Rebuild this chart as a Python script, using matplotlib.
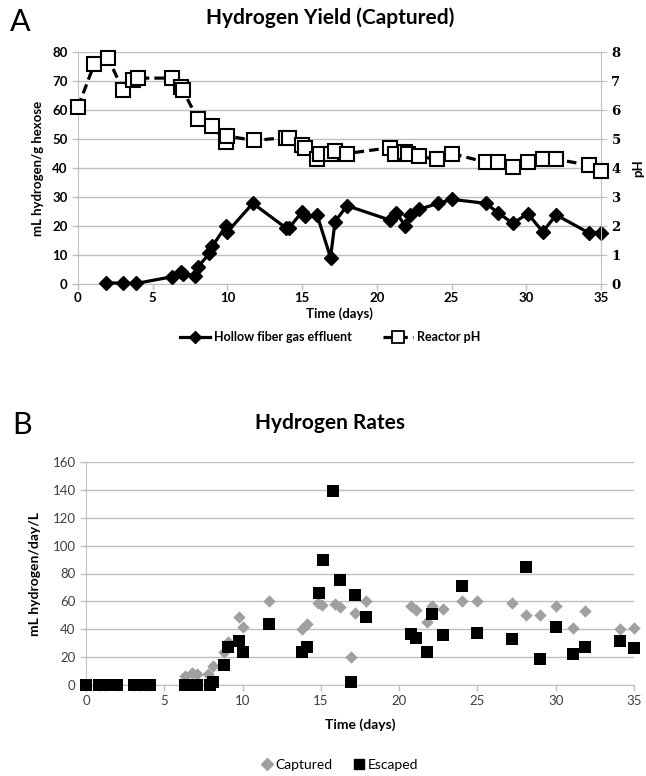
import matplotlib.pyplot as plt
from matplotlib.lines import Line2D

plt.rcParams['font.family'] = ['Lato', 'DejaVu Sans']

# Panel A - hollow fiber gas effluent yield (mL H2 / g hexose)
hf_days = [1.9, 3.0, 3.9, 6.3, 6.9, 7.0, 7.8, 8.0, 8.8, 9.0, 9.9, 10.0, 11.7,
           13.9, 14.1, 15.0, 15.2, 16.0, 16.9, 17.2, 18.0, 20.9, 21.3, 21.9,
           22.2, 22.8, 24.1, 25.0, 27.3, 28.1, 29.1, 30.1, 31.1, 32.0, 34.2, 35.0]
hf_yield = [0.5, 0.2, 0.2, 2.5, 4.0, 3.6, 2.9, 5.7, 10.6, 13.1, 20.0, 18.0, 27.8,
            19.4, 19.2, 24.9, 23.4, 23.8, 9.1, 21.5, 27.0, 22.0, 24.6, 20.0,
            23.8, 25.7, 27.8, 29.2, 27.8, 24.6, 20.9, 24.3, 18.0, 23.8, 17.6, 17.7]

# Panel A - reactor pH
ph_days = [0.0, 1.1, 2.0, 3.0, 3.7, 4.0, 6.3, 6.9, 7.0, 8.0, 9.0, 9.9, 10.0,
           11.8, 13.9, 14.1, 15.0, 15.2, 16.0, 16.2, 16.9, 17.2, 18.0, 20.9,
           21.2, 21.9, 22.1, 22.8, 24.0, 25.0, 27.3, 28.1, 29.1, 30.1, 31.1,
           32.0, 34.2, 35.0]
ph_vals = [6.1, 7.6, 7.8, 6.7, 7.05, 7.1, 7.1, 6.8, 6.7, 5.7, 5.45, 4.9, 5.1,
           4.95, 5.05, 5.05, 4.8, 4.7, 4.3, 4.5, 4.5, 4.6, 4.5, 4.7,
           4.5, 4.55, 4.5, 4.4, 4.3, 4.5, 4.2, 4.2, 4.05, 4.2, 4.3,
           4.3, 4.1, 3.9]

# Panel B - hydrogen rates (mL H2 / day / L)
cap_days = [0.0, 0.85, 1.2, 2.0, 3.06, 3.45, 3.77, 4.1, 6.3, 6.8, 7.1, 7.8, 8.1,
            8.8, 9.1, 9.8, 10.0, 11.7, 13.8, 14.1, 14.8, 15.1, 15.9, 16.2, 16.9,
            17.2, 17.9, 20.75, 21.1, 21.75, 22.1, 22.8, 24.0, 25.0, 27.2, 28.1,
            29.0, 30.0, 31.1, 31.9, 34.1, 35.0]
cap_rate = [0, 0, 0, 0, 0, 0, 0, 0, 6.2, 8.5, 8.0, 7.6, 13.4,
            24, 31, 48.5, 41.6, 60, 40.4, 43.9, 58.9, 57.7, 58, 56, 20,
            52, 60, 56.6, 53.8, 45, 56.6, 54.7, 60, 60, 58.9, 50,
            50, 56.6, 40.9, 53, 40, 41]

esc_days = [0.0, 0.85, 1.2, 2.0, 3.06, 3.45, 3.77, 4.1, 6.3, 6.6, 7.1, 7.9, 8.1,
            8.8, 9.1, 9.8, 10.0, 11.7, 13.8, 14.1, 14.9, 15.15, 15.8, 16.2, 16.95,
            17.2, 17.9, 20.75, 21.1, 21.75, 22.1, 22.8, 24.0, 24.95, 27.2, 28.1,
            29.0, 30.0, 31.1, 31.9, 34.1, 35.0]
esc_rate = [0, 0, 0, 0, 0, 0, 0, 0, 0, 0, 0, 0, 1.8,
            14.3, 27, 31.6, 23.8, 43.9, 23.8, 27, 66.3, 90, 139, 75, 2.3,
            64.7, 48.5, 36.3, 33.5, 23.6, 50.8, 35.8, 70.9, 37, 33, 84.8,
            18.5, 41.6, 22, 27, 31.6, 26.5]

W, H = 646, 776
fig = plt.figure(figsize=(W / 100, H / 100), dpi=100)
grid_c = '#bfbfbf'


def px(x, y):
    return x / W, 1 - y / H


def style_axes(ax):
    for s in ['top', 'right']:
        ax.spines[s].set_visible(False)
    ax.spines['left'].set_color(grid_c)
    ax.spines['bottom'].set_color(grid_c)
    ax.tick_params(axis='both', colors=grid_c, length=4, width=1)
    ax.grid(axis='y', color=grid_c, lw=1)
    ax.set_axisbelow(True)


# ---------------- Panel A ----------------
axA = fig.add_axes([78 / W, 1 - 284 / H, 523 / W, 232 / H])
style_axes(axA)
axA.set_xlim(0, 35)
axA.set_ylim(0, 80)
axA.set_xticks(range(0, 36, 5))
axA.set_yticks(range(0, 81, 10))
axA.tick_params(axis='x', pad=2)
for lab in axA.get_xticklabels() + axA.get_yticklabels():
    lab.set_fontweight('bold')
    lab.set_fontsize(9.5)
    lab.set_color('black')
axA.plot(hf_days, hf_yield, color='black', lw=2.3, marker='D', ms=7.5,
         mfc='black', mec='black', clip_on=False, zorder=3)
axA.set_xlabel('Time (days)', fontsize=9.5, fontweight='bold', labelpad=2)
axA.set_ylabel('mL hydrogen/g hexose', fontsize=9.5, fontweight='bold', labelpad=6)

axA2 = axA.twinx()
axA2.set_ylim(0, 8)
axA2.set_yticks(range(0, 9))
for s in ['top', 'left', 'bottom']:
    axA2.spines[s].set_visible(False)
axA2.spines['right'].set_color(grid_c)
axA2.tick_params(axis='y', colors=grid_c, length=4)
for lab in axA2.get_yticklabels():
    lab.set_family('DejaVu Serif')
    lab.set_fontweight('bold')
    lab.set_fontsize(9.5)
    lab.set_color('black')
axA2.plot(ph_days, ph_vals, color='black', lw=2.3, ls=(0, (3, 1.6)), marker='s',
          ms=9.5, mfc='white', mec='black', mew=1.5, clip_on=False, zorder=3)
axA2.set_ylabel('pH', fontsize=9.5, fontweight='bold', labelpad=8)

fig.text(*px(330, 18), 'Hydrogen Yield (Captured)', fontsize=15, fontweight='bold',
         ha='center', va='center')
fig.text(*px(20, 22), 'A', fontsize=22, ha='center', va='center')

legA = [Line2D([], [], color='black', lw=2.3, marker='D', ms=6),
        Line2D([], [], color='black', lw=2.3, ls=(0, (3, 1.6)), marker='s', ms=8,
               mfc='white', mew=1.3)]
fig.legend(legA, ['Hollow fiber gas effluent', 'Reactor pH'], loc='center',
           bbox_to_anchor=px(330, 337), ncol=2, frameon=False, handlelength=2.4,
           columnspacing=2.5, handletextpad=0.3,
           prop={'size': 9, 'weight': 'bold'})

# ---------------- Panel B ----------------
axB = fig.add_axes([86 / W, 1 - 685 / H, 548 / W, 223 / H])
style_axes(axB)
axB.set_xlim(0, 35)
axB.set_ylim(0, 160)
axB.set_xticks(range(0, 36, 5))
axB.set_yticks(range(0, 161, 20))
for lab in axB.get_xticklabels() + axB.get_yticklabels():
    lab.set_fontsize(9.5)
    lab.set_color('#404040')
axB.scatter(cap_days, cap_rate, marker='D', s=40, color='#a0a0a0', lw=0,
            clip_on=False, zorder=3)
axB.scatter(esc_days, esc_rate, marker='s', s=70, color='black', lw=0,
            clip_on=False, zorder=4)
axB.set_xlabel('Time (days)', fontsize=10, fontweight='bold', labelpad=8)
axB.set_ylabel('mL hydrogen/day/L', fontsize=10, fontweight='bold', labelpad=8)

fig.text(*px(330, 423), 'Hydrogen Rates', fontsize=15, fontweight='bold',
         ha='center', va='center')
fig.text(*px(22, 425), 'B', fontsize=22, ha='center', va='center')

legB = [Line2D([], [], ls='none', marker='D', ms=6, color='#a0a0a0'),
        Line2D([], [], ls='none', marker='s', ms=7, color='black')]
fig.legend(legB, ['Captured', 'Escaped'], loc='center', bbox_to_anchor=px(340, 765),
           ncol=2, frameon=False, handlelength=0.8, handletextpad=0.2,
           columnspacing=1.5, prop={'size': 10})

fig.savefig('out.png', dpi=100)
